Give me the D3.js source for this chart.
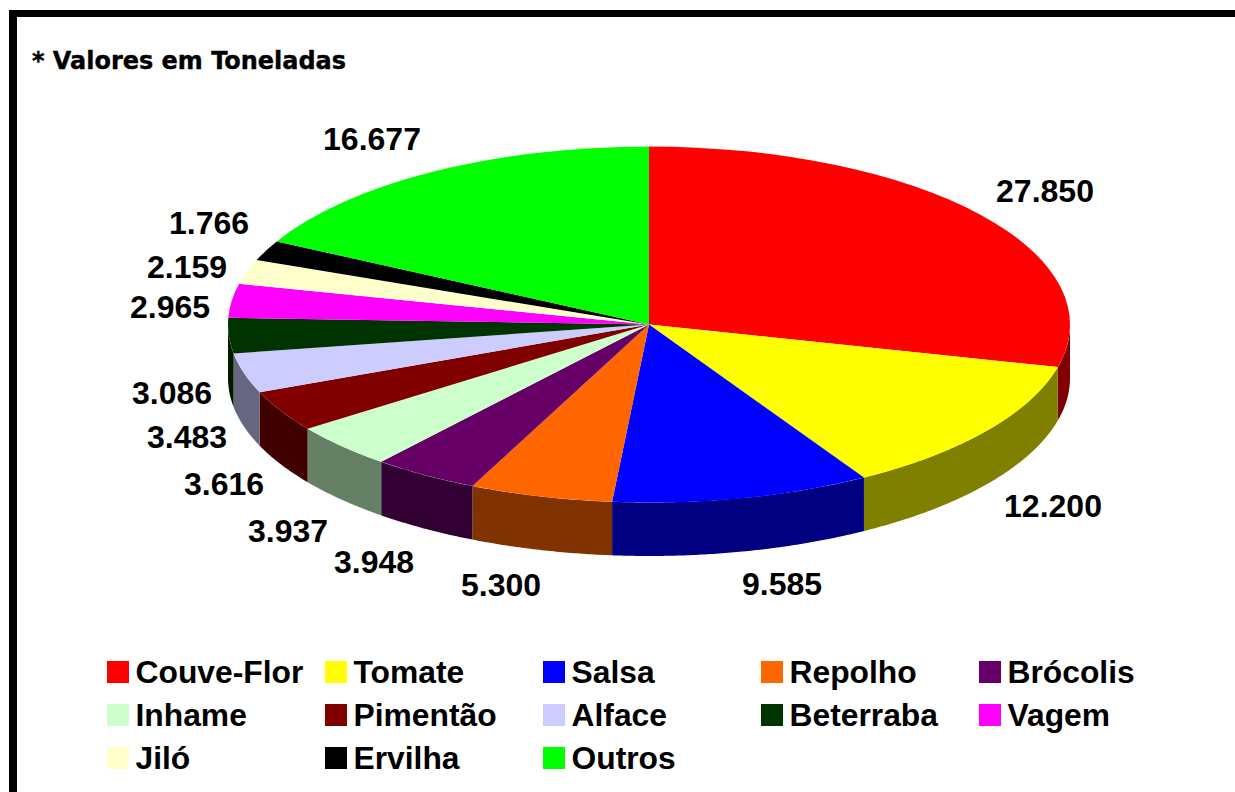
<!DOCTYPE html>
<html><head><meta charset="utf-8">
<script src="https://cdnjs.cloudflare.com/ajax/libs/d3/7.8.5/d3.min.js"></script>
<style>html,body{margin:0;padding:0;background:#fff;overflow:hidden}svg{display:block}</style>
</head><body><svg id="c" width="1235" height="792"></svg>
<script>
const categories = ["Couve-Flor","Tomate","Salsa","Repolho","Brócolis","Inhame","Pimentão","Alface","Beterraba","Vagem","Jiló","Ervilha","Outros"];
const values = [27850,12200,9585,5300,3948,3937,3616,3483,3086,2965,2159,1766,16677];
const labels = ["27.850","12.200","9.585","5.300","3.948","3.937","3.616","3.483","3.086","2.965","2.159","1.766","16.677"];
const colors = ["#ff0000","#ffff00","#0000ff","#ff6600","#660066","#ccffcc","#800000","#ccccff","#003300","#ff00ff","#ffffcc","#000000","#00ff00"];
const title = "* Valores em Toneladas";

// layout only
const cx = 649, cy = 324.5, rx = 421, ry = 178, depth = 53.5;
const labelCentres = [[1045,191],[1053,506],[782,584],[501,585],[374,562],[288,531],[224,484],[187,437],[172,393],[170,307],[187,267],[209,223],[372,139]];
const font = "'Liberation Sans',Arial,sans-serif";

const svg = d3.select("#c");
svg.append("rect").attr("x",9).attr("y",10).attr("width",1226).attr("height",7).attr("fill","#000");
svg.append("rect").attr("x",9).attr("y",10).attr("width",8).attr("height",782).attr("fill","#000");
svg.append("text").attr("x",32).attr("y",69).attr("font-family","'DejaVu Sans',sans-serif")
  .attr("font-weight",700).attr("font-size",25.5).attr("textLength",314).attr("lengthAdjust","spacingAndGlyphs")
  .attr("stroke","#000").attr("stroke-width",0.4).text(title);

const arcs = d3.pie().sort(null).value(d=>d)(values);
const px = d3.scaleLinear().domain([-1,1]).range([cx-rx,cx+rx]);
const py = d3.scaleLinear().domain([-1,1]).range([cy-ry,cy+ry]);
const ptX = a => px(Math.sin(a)), ptY = a => py(-Math.cos(a));
const darker = c => { const r=d3.rgb(c); return d3.rgb(r.r/2,r.g/2,r.b/2).formatHex(); };

// side walls
const wall = svg.append("g");
arcs.forEach((d,i)=>{
  const a0 = Math.max(d.startAngle, Math.PI/2), a1 = Math.min(d.endAngle, 3*Math.PI/2);
  if (a1 <= a0) return;
  const n = Math.max(2, Math.ceil((a1-a0)*rx/3));
  const as = d3.range(n+1).map(k=>a0+(a1-a0)*k/n);
  const top = as.map(a=>[ptX(a),ptY(a)]);
  const bot = as.slice().reverse().map(a=>[ptX(a),ptY(a)+depth]);
  wall.append("path").attr("d", d3.line()(top.concat(bot))+"Z").attr("fill",darker(colors[i]));
});

// top face
const arcGen = d3.arc().innerRadius(0).outerRadius(rx);
svg.append("g").attr("transform",`translate(${cx},${cy}) scale(1,${ry/rx})`)
  .selectAll("path").data(arcs).join("path")
  .attr("d",arcGen).attr("fill",(d,i)=>colors[i]);

// value labels
svg.append("g").selectAll("text").data(labels).join("text")
  .attr("x",(d,i)=>labelCentres[i][0]).attr("y",(d,i)=>labelCentres[i][1]+11)
  .attr("text-anchor","middle").attr("font-family",font).attr("font-weight",700).attr("font-size",32)
  .attr("fill","#000").text(d=>d);

// legend
const colX = d3.scaleLinear().domain([0,4]).range([107,979]);
const rowY = d3.scaleLinear().domain([0,2]).range([661,747]);
const lg = svg.append("g").selectAll("g").data(categories).join("g")
  .attr("transform",(d,i)=>`translate(${colX(i%5)},${rowY(Math.floor(i/5))})`);
lg.append("rect").attr("width",22).attr("height",22).attr("fill",(d,i)=>colors[i]);
lg.append("text").attr("x",28.5).attr("y",22).attr("font-family",font).attr("font-weight",700)
  .attr("font-size",31.8).attr("fill","#000").text(d=>d);
</script></body></html>
